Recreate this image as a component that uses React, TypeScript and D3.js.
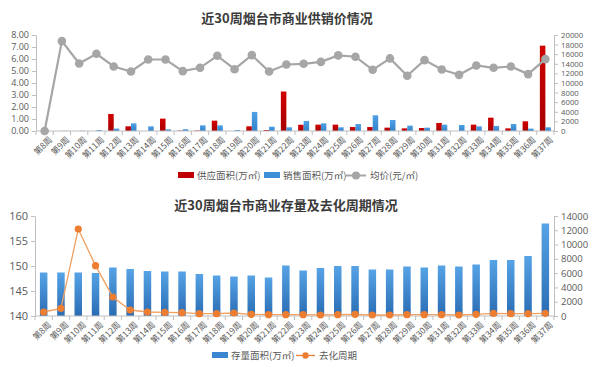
import React, { useRef, useEffect } from 'react';
import { select, scaleBand, scaleLinear, axisLeft, axisRight, line, range } from 'd3';

const weeks = range(8, 38).map(w => `第${w}周`);

// top chart: 供应面积 / 销售面积 (万㎡), 均价 (元/㎡)
const supplyArea = [0, 0, 0, 0, 1.42, 0.39, 0, 1.03, 0.03, 0.04, 0.86, 0, 0.39, 0.08, 3.29,
  0.52, 0.53, 0.53, 0.33, 0.33, 0.28, 0.22, 0.25, 0.67, 0, 0.53, 1.11, 0.22, 0.81, 7.11];
const salesArea = [0, 0.02, 0.03, 0.08, 0.2, 0.64, 0.39, 0.14, 0.15, 0.47, 0.47, 0.08, 1.59, 0.36, 0.31,
  0.84, 0.64, 0.31, 0.58, 1.31, 0.92, 0.45, 0.28, 0.53, 0.5, 0.39, 0.42, 0.58, 0.2, 0.31];
const avgPrice = [0, 18730, 14070, 16090, 13440, 12400, 14900, 14900, 12470, 13160, 15670, 12880, 15810, 12400, 13860,
  14000, 14400, 15750, 15470, 12750, 15120, 11500, 14770, 12820, 11700, 13660, 13170, 13450, 11850, 14980];

// bottom chart: 存量面积 (万㎡), 去化周期
const stockArea = [148.7, 148.7, 148.7, 148.6, 149.7, 149.4, 149.0, 148.9, 148.9, 148.4, 148.1, 147.9, 148.1, 147.7, 150.1,
  149.1, 149.6, 150.0, 150.0, 149.3, 149.3, 149.9, 149.7, 150.1, 149.9, 150.3, 151.2, 151.2, 152.0, 158.5];
const sellCycle = [560, 1070, 12180, 7050, 2660, 840, 560, 510, 470, 330, 330, 420, 230, 190, 190,
  190, 140, 190, 230, 140, 140, 190, 190, 190, 140, 230, 370, 330, 330, 370];

const topLeftTicks = range(0, 9);
const topRightTicks = range(0, 20001, 2000);
const botLeftTicks = [140, 145, 150, 155, 160];
const botRightTicks = range(0, 14001, 2000);

const FONT = '"Noto Sans CJK SC", "Noto Sans", sans-serif';
const NUMFONT = '"Open Sans", "Noto Sans", sans-serif';
const TXT = '#595959';
const AXIS = '#bfbfbf';

const App = () => {
  const svgRef = useRef<SVGSVGElement | null>(null);

  useEffect(() => {
    const svg = select(svgRef.current);
    svg.selectAll('*').remove();

    const defs = svg.append('defs');
    const gBlue = defs.append('linearGradient').attr('id', 'gBlue').attr('x1', 0).attr('y1', 0).attr('x2', 0).attr('y2', 1);
    gBlue.append('stop').attr('offset', '0%').attr('stop-color', '#56a3e6');
    gBlue.append('stop').attr('offset', '100%').attr('stop-color', '#2a6cb3');
    const gBlue2 = defs.append('linearGradient').attr('id', 'gBlue2').attr('x1', 0).attr('y1', 0).attr('x2', 0).attr('y2', 1);
    gBlue2.append('stop').attr('offset', '0%').attr('stop-color', '#4fa0e4');
    gBlue2.append('stop').attr('offset', '100%').attr('stop-color', '#3483cc');
    const gRed = defs.append('linearGradient').attr('id', 'gRed').attr('x1', 0).attr('y1', 0).attr('x2', 0).attr('y2', 1);
    gRed.append('stop').attr('offset', '0%').attr('stop-color', '#d00000');
    gRed.append('stop').attr('offset', '100%').attr('stop-color', '#a80000');

    const styleAxis = (g, size = 10) => {
      g.select('.domain').attr('stroke', AXIS);
      g.selectAll('line').attr('stroke', AXIS);
      g.selectAll('text').attr('fill', TXT).attr('font-size', size).attr('font-family', NUMFONT);
    };

    const drawXAxis = (x, y0) => {
      const g = svg.append('g');
      const [r0, r1] = x.range();
      g.append('line').attr('x1', r0).attr('x2', r1).attr('y1', y0).attr('y2', y0).attr('stroke', AXIS);
      weeks.forEach(w => {
        g.append('line').attr('x1', x(w)).attr('x2', x(w)).attr('y1', y0).attr('y2', y0 + 4).attr('stroke', AXIS);
        const cx = x(w) + x.bandwidth() / 2;
        g.append('text')
          .attr('transform', `translate(${cx + 4},${y0 + 5}) rotate(-45)`)
          .attr('text-anchor', 'end')
          .attr('dy', '0.7em')
          .attr('font-size', 8.5)
          .attr('font-family', FONT)
          .attr('fill', TXT)
          .text(w);
      });
      g.append('line').attr('x1', r1).attr('x2', r1).attr('y1', y0).attr('y2', y0 + 4).attr('stroke', AXIS);
    };

    const title = (txt, x, y) => svg.append('text')
      .attr('x', x).attr('y', y)
      .attr('text-anchor', 'middle')
      .attr('font-size', 13).attr('font-weight', 'bold')
      .attr('font-family', FONT).attr('fill', '#3a3a3a')
      .text(txt);

    // ---------- top chart ----------
    const tl = 36, tr = 554, tt = 35, tb = 131;
    const x1 = scaleBand().domain(weeks).range([tl, tr]);
    const y1 = scaleLinear().domain([0, 8]).range([tb, tt]);
    const y1r = scaleLinear().domain([0, 20000]).range([tb, tt]);

    title('近30周烟台市商业供销价情况', 287, 23);

    const la = svg.append('g').attr('transform', `translate(${tl},0)`)
      .call(axisLeft(y1).tickValues(topLeftTicks).tickFormat(d => d.toFixed(2)).tickSize(4).tickSizeOuter(0));
    styleAxis(la, 9);
    const ra = svg.append('g').attr('transform', `translate(${tr},0)`)
      .call(axisRight(y1r).tickValues(topRightTicks).tickFormat(d => String(d)).tickSize(4).tickSizeOuter(0));
    styleAxis(ra, 7.8);

    const bw = 5.5;
    svg.append('g').selectAll('rect').data(supplyArea).enter().append('rect')
      .attr('x', (d, i) => x1(weeks[i]) + x1.bandwidth() / 2 - bw)
      .attr('y', d => y1(d)).attr('width', bw).attr('height', d => tb - y1(d))
      .attr('fill', 'url(#gRed)');
    svg.append('g').selectAll('rect').data(salesArea).enter().append('rect')
      .attr('x', (d, i) => x1(weeks[i]) + x1.bandwidth() / 2)
      .attr('y', d => y1(d)).attr('width', bw).attr('height', d => tb - y1(d))
      .attr('fill', 'url(#gBlue2)');

    drawXAxis(x1, tb);

    const priceLine = line<number>()
      .x((d, i) => x1(weeks[i]) + x1.bandwidth() / 2)
      .y(d => y1r(d));
    svg.append('path').attr('d', priceLine(avgPrice)).attr('fill', 'none')
      .attr('stroke', '#a6a6a6').attr('stroke-width', 2.2);
    svg.append('g').selectAll('circle').data(avgPrice).enter().append('circle')
      .attr('cx', (d, i) => x1(weeks[i]) + x1.bandwidth() / 2)
      .attr('cy', d => y1r(d)).attr('r', 4.3).attr('fill', '#a6a6a6');

    // top legend
    const lg1 = svg.append('g').attr('font-family', FONT).attr('font-size', 9.5).attr('fill', TXT);
    lg1.append('rect').attr('x', 178).attr('y', 172).attr('width', 16).attr('height', 6).attr('fill', '#c00000');
    lg1.append('text').attr('x', 197).attr('y', 179).text('供应面积(万㎡)');
    lg1.append('rect').attr('x', 264).attr('y', 172).attr('width', 16).attr('height', 6).attr('fill', '#3d8fd6');
    lg1.append('text').attr('x', 283).attr('y', 179).text('销售面积(万㎡)');
    lg1.append('line').attr('x1', 346).attr('x2', 366).attr('y1', 175.5).attr('y2', 175.5).attr('stroke', '#a6a6a6').attr('stroke-width', 2);
    lg1.append('circle').attr('cx', 356).attr('cy', 175.5).attr('r', 4).attr('fill', '#a6a6a6');
    lg1.append('text').attr('x', 370).attr('y', 179).text('均价(元/㎡)');

    // ---------- bottom chart ----------
    const bl = 35, br = 554, bt = 216, bb = 316;
    const x2 = scaleBand().domain(weeks).range([bl, br]);
    const y2 = scaleLinear().domain([140, 160]).range([bb, bt]);
    const y2r = scaleLinear().domain([0, 14000]).range([bb, bt]);

    title('近30周烟台市商业存量及去化周期情况', 286, 210);

    const la2 = svg.append('g').attr('transform', `translate(${bl},0)`)
      .call(axisLeft(y2).tickValues(botLeftTicks).tickSize(4).tickSizeOuter(0));
    styleAxis(la2, 11);
    const ra2 = svg.append('g').attr('transform', `translate(${br},0)`)
      .call(axisRight(y2r).tickValues(botRightTicks).tickFormat(d => String(d)).tickSize(4).tickSizeOuter(0));
    styleAxis(ra2, 9.5);

    const bw2 = 7.5;
    svg.append('g').selectAll('rect').data(stockArea).enter().append('rect')
      .attr('x', (d, i) => x2(weeks[i]) + x2.bandwidth() / 2 - bw2 / 2)
      .attr('y', d => y2(d)).attr('width', bw2).attr('height', d => bb - y2(d))
      .attr('fill', 'url(#gBlue)');

    drawXAxis(x2, bb);

    const cycleLine = line<number>()
      .x((d, i) => x2(weeks[i]) + x2.bandwidth() / 2)
      .y(d => y2r(d));
    svg.append('path').attr('d', cycleLine(sellCycle)).attr('fill', 'none')
      .attr('stroke', '#f0a060').attr('stroke-width', 1.3);
    svg.append('g').selectAll('circle').data(sellCycle).enter().append('circle')
      .attr('cx', (d, i) => x2(weeks[i]) + x2.bandwidth() / 2)
      .attr('cy', d => y2r(d)).attr('r', 3.6).attr('fill', '#ed7d31');

    // bottom legend
    const lg2 = svg.append('g').attr('font-family', FONT).attr('font-size', 9.5).attr('fill', TXT);
    lg2.append('rect').attr('x', 212).attr('y', 352).attr('width', 16).attr('height', 6).attr('fill', '#3a86d0');
    lg2.append('text').attr('x', 231).attr('y', 359).text('存量面积(万㎡)');
    lg2.append('line').attr('x1', 296).attr('x2', 315).attr('y1', 355.5).attr('y2', 355.5).attr('stroke', '#ed7d31').attr('stroke-width', 1.3);
    lg2.append('circle').attr('cx', 305.5).attr('cy', 355.5).attr('r', 3.2).attr('fill', '#ed7d31');
    lg2.append('text').attr('x', 319).attr('y', 359).text('去化周期');
  }, []);

  return (
    <svg ref={svgRef} width={600} height={369}
      style={{ position: 'absolute', left: 0, top: 0, background: '#fff' }} />
  );
};

export default App;
